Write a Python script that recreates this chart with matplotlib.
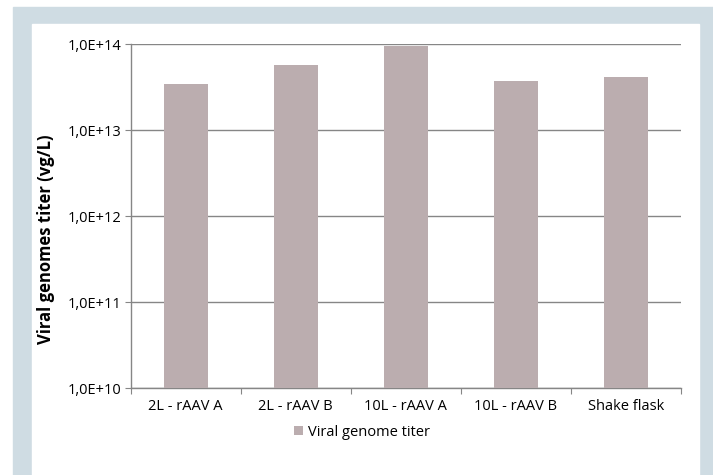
import numpy as np
import matplotlib
matplotlib.use('Agg')
import matplotlib.pyplot as plt
from matplotlib.patches import Rectangle
from matplotlib.ticker import FuncFormatter, NullLocator

# Data
categories = ['2L - rAAV A', '2L - rAAV B', '10L - rAAV A', '10L - rAAV B', 'Shake flask']
titer = [3.43e13, 5.7e13, 9.5e13, 3.7e13, 4.1e13]
y_ticks = [1e10, 1e11, 1e12, 1e13, 1e14]
series_name = 'Viral genome titer'

plt.rcParams['font.family'] = ['Open Sans', 'DejaVu Sans']

W, H = 713, 475
fig = plt.figure(figsize=(W / 100, H / 100), dpi=100)
fig.patch.set_facecolor('white')

# light blue frame with white panel inside
fig.patches.append(Rectangle((13 / W, 0), 1 - 13 / W, (H - 7) / H,
                             transform=fig.transFigure, color='#cfdce3', zorder=-2))
fig.patches.append(Rectangle((32 / W, 0), (699 - 32) / W, (H - 24) / H,
                             transform=fig.transFigure, color='white', zorder=-1))

ax = fig.add_axes([130.7 / W, 1 - 388 / H, (681 - 130.7) / W, (388 - 44) / H])
ax.set_facecolor('none')
ax.set_zorder(2)

x = np.arange(len(categories))
ax.bar(x, titer, width=0.4, color='#bbadaf', zorder=3, label=series_name)

ax.set_yscale('log')
ax.set_ylim(1e10, 1e14)
ax.set_yticks(y_ticks)
ax.yaxis.set_minor_locator(NullLocator())
ax.yaxis.set_major_formatter(FuncFormatter(
    lambda v, p: '1,0E+%d' % int(round(np.log10(v)))))
ax.set_xlim(-0.5, len(categories) - 0.5)
ax.set_xticks(np.arange(len(categories) + 1) - 0.5, minor=False)
ax.set_xticklabels([])
ax.set_xticks(x, minor=True)
ax.set_xticklabels(categories, minor=True)
ax.tick_params(axis='x', which='minor', length=0, pad=8, labelsize=10.5, colors='black')
ax.tick_params(axis='x', which='major', length=4, color='#868686', direction='out')
ax.tick_params(axis='y', length=4, color='#868686', labelsize=10.5, pad=3)

ax.grid(axis='y', color='#868686', linewidth=1, zorder=1)
for s in ['top', 'right']:
    ax.spines[s].set_visible(False)
for s in ['left', 'bottom']:
    ax.spines[s].set_color('#868686')
    ax.spines[s].set_linewidth(1)

# y title sits a bit lower than the plot centre, as in the original
fig.text(46 / W, 1 - 239 / H, 'Viral genomes titer (vg/L)', rotation=90,
         ha='center', va='center', fontsize=12, fontweight='bold')

fig.legend(loc='center', bbox_to_anchor=(362 / W, 1 - 432 / H), frameon=False,
           fontsize=10.5, handlelength=0.6, handleheight=0.6, handletextpad=0.3)

fig.savefig('out.png', dpi=100)
